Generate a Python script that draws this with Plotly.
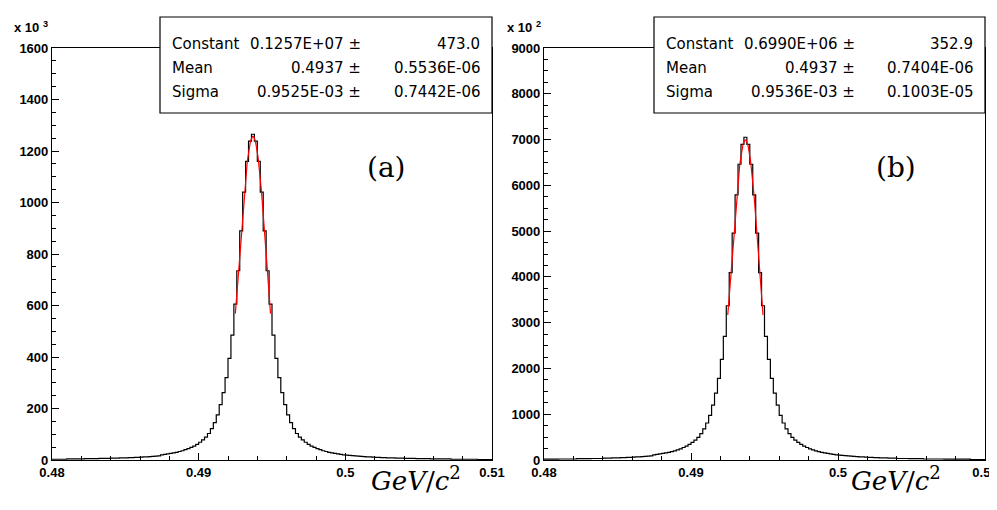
import numpy as np
import plotly.graph_objects as go
from plotly.subplots import make_subplots

# histogram binning: 150 bins of 0.0002 GeV/c^2 from 0.48 to 0.51
x_lo, x_hi, bin_w = 0.48, 0.51, 0.0002

# panel (a) bin contents, x 10^3
counts_a = [3, 3, 3, 3, 3, 4, 4, 4, 4, 4, 4, 5, 5, 5, 5, 5, 6, 6, 6, 6,
            7, 7, 7, 8, 8, 8, 9, 9, 10, 10, 11, 12, 12, 13, 14, 15, 16, 20,
            22, 24, 26, 28, 30, 33, 36, 40, 44, 49, 54, 61, 69, 78, 89, 103,
            122, 145, 175, 215, 262, 320, 395, 485, 605, 735, 890, 1040, 1160, 1238,
            1265,
            1238, 1160, 1040, 890, 735, 605, 485, 395, 320, 262, 215, 175, 145, 122,
            103, 89, 78, 69, 61, 54, 49, 44, 40, 36, 33, 30, 28, 26, 24, 22,
            20, 19, 18, 17, 16, 15, 14, 13, 12, 12, 11, 10, 10, 9, 9, 8, 8, 8,
            7, 7, 7, 6, 6, 6, 6, 5, 5, 5, 5, 5, 4, 4, 4, 4, 4, 4, 4,
            3, 3, 3, 3, 3, 3, 3, 3, 3, 2, 2, 2, 2, 2]

# panel (b) bin contents, x 10^2
counts_b = [17, 17, 17, 17, 17, 22, 22, 22, 22, 22, 22, 28, 28, 28, 28, 28, 33, 33, 33, 33,
            39, 39, 39, 45, 45, 45, 50, 50, 56, 56, 61, 67, 67, 72, 78, 84, 89, 111,
            123, 134, 145, 156, 167, 184, 200, 223, 245, 273, 301, 340, 384, 434, 496, 574,
            680, 808, 975, 1198, 1459, 1782, 2200, 2701, 3370, 4094, 4957, 5793, 6461, 6896,
            7050,
            6896, 6461, 5793, 4957, 4094, 3370, 2701, 2200, 1782, 1459, 1198, 975, 808, 680,
            574, 496, 434, 384, 340, 301, 273, 245, 223, 200, 184, 167, 156, 145, 134, 123,
            111, 106, 100, 95, 89, 84, 78, 72, 67, 67, 61, 56, 56, 50, 50, 45, 45, 45,
            39, 39, 39, 33, 33, 33, 33, 28, 28, 28, 28, 28, 22, 22, 22, 22, 22, 22, 22,
            17, 17, 17, 17, 17, 17, 17, 17, 17, 11, 11, 11, 11, 11]

# gaussian fit results (constant already in plotted units)
fit_a = dict(const=1257.0, mean=0.4937, sigma=0.9525e-3, lo=0.4925, hi=0.4949)
fit_b = dict(const=6990.0, mean=0.4937, sigma=0.9536e-3, lo=0.4925, hi=0.4949)

stats_a = [("Constant", "0.1257E+07 ±", "473.0"),
           ("Mean", "0.4937 ±", "0.5536E-06"),
           ("Sigma", "0.9525E-03 ±", "0.7442E-06")]
stats_b = [("Constant", "0.6990E+06 ±", "352.9"),
           ("Mean", "0.4937 ±", "0.7404E-06"),
           ("Sigma", "0.9536E-03 ±", "0.1003E-05")]

edges = np.linspace(x_lo, x_hi, len(counts_a) + 1)

fig = make_subplots(rows=1, cols=2, horizontal_spacing=0.05)

for col, counts, fit in [(1, counts_a, fit_a), (2, counts_b, fit_b)]:
    y_step = list(counts) + [counts[-1]]
    fig.add_trace(go.Scatter(x=edges, y=y_step, mode='lines', line_shape='hv',
                             line=dict(color='black', width=1.2), showlegend=False),
                  row=1, col=col)
    xf = np.linspace(fit['lo'], fit['hi'], 120)
    yf = fit['const'] * np.exp(-0.5 * ((xf - fit['mean']) / fit['sigma']) ** 2)
    fig.add_trace(go.Scatter(x=xf, y=yf, mode='lines',
                             line=dict(color='red', width=1.2), showlegend=False),
                  row=1, col=col)

W, H = 997, 510
px = lambda v: v / W
py = lambda v: 1 - v / H

tickfont = dict(family='Liberation Sans', size=13, color='black', weight='bold')
axis_common = dict(showgrid=False, zeroline=False, showline=True, mirror=True,
                   linecolor='black', linewidth=1.2, ticks='inside', ticklen=7,
                   tickcolor='black', tickfont=tickfont, automargin=False)

fig.update_xaxes(range=[x_lo, x_hi], tickvals=[0.48, 0.49, 0.5, 0.51],
                 ticktext=['0.48', '0.49', '0.5', '0.51'], ticklabelstandoff=0,
                 minor=dict(dtick=0.002, ticks='inside', ticklen=4, tickcolor='black'),
                 **axis_common)
fig.update_xaxes(domain=[px(44), px(484)], row=1, col=1)
fig.update_xaxes(domain=[px(536), px(977)], row=1, col=2)
fig.update_yaxes(domain=[py(452), py(40)], **axis_common)
fig.update_yaxes(range=[0, 1600], dtick=200,
                 minor=dict(dtick=50, ticks='inside', ticklen=4, tickcolor='black'),
                 row=1, col=1)
fig.update_yaxes(range=[0, 9000], dtick=1000,
                 minor=dict(dtick=250, ticks='inside', ticklen=4, tickcolor='black'),
                 row=1, col=2)

statfont = dict(family='DejaVu Sans', size=15, color='black')
shapes, annots = [], []
for (x0, x1, stats, label, mult, mx, lx, gx) in [
        (152, 484, stats_a, '(a)', '3', 4, 378, 408),
        (646, 977, stats_b, '(b)', '2', 497, 910, 935)]:
    shapes.append(dict(type='rect', xref='paper', yref='paper',
                       x0=px(x0), x1=px(x1), y0=py(105), y1=py(9),
                       line=dict(color='black', width=1.2), fillcolor='white'))
    for i, (name, val, err) in enumerate(stats):
        yy = py(25 + i * 24)
        annots.append(dict(x=px(x0 + 10), y=yy, text=name, xanchor='left',
                           showarrow=False, font=statfont, xref='paper', yref='paper'))
        annots.append(dict(x=px(x0 + 203), y=yy, text=val, xanchor='right',
                           showarrow=False, font=statfont, xref='paper', yref='paper'))
        annots.append(dict(x=px(x1 - 10), y=yy, text=err, xanchor='right',
                           showarrow=False, font=statfont, xref='paper', yref='paper'))
    annots.append(dict(x=px(lx), y=py(141), text=label, showarrow=False,
                       font=dict(family='DejaVu Serif', size=28, color='black'),
                       xref='paper', yref='paper'))
    annots.append(dict(x=px(gx), y=py(490),
                       text='<i>GeV</i>/<i>c</i><sup>2</sup>', showarrow=False,
                       font=dict(family='DejaVu Serif', size=26, color='black'),
                       xref='paper', yref='paper'))
    annots.append(dict(x=px(mx), y=py(9),
                       text='<b>x 10 <sup>' + mult + '</sup></b>', xanchor='left', showarrow=False,
                       font=dict(family='Liberation Sans', size=13, color='black'),
                       xref='paper', yref='paper'))

fig.update_layout(width=W, height=H, margin=dict(l=0, r=0, t=0, b=0),
                  paper_bgcolor='white', plot_bgcolor='white',
                  shapes=shapes, annotations=annots)

fig.write_html("out.html")
